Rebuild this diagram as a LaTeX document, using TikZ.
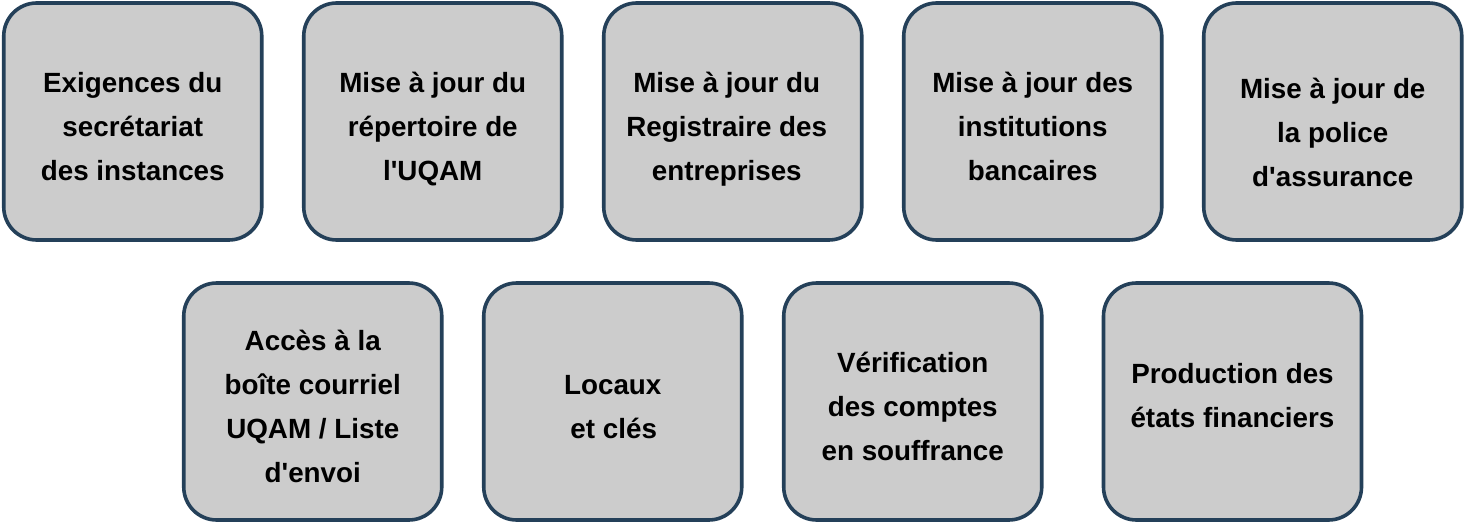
\documentclass[tikz,border=0pt]{standalone}
\usepackage{fontspec}
\setmainfont{Liberation Sans}
\definecolor{boxblue}{RGB}{36,64,89}
\definecolor{boxgray}{RGB}{204,204,204}
\newcommand{\sq}{\textquotesingle}
\tikzset{
  card/.style={draw=boxblue, fill=boxgray, line width=3.6pt, rounded corners=33pt,
    minimum width=258pt, minimum height=237pt, inner sep=0pt},
  cardtext/.style={align=center, inner sep=0pt, text=black,
    font=\fontsize{27.8}{44}\selectfont\bfseries}
}
\begin{document}
\begin{tikzpicture}[x=1pt,y=1pt]
\useasboundingbox (0,0) rectangle (1464,-530);
% top row
\node[card] (b1) at (132.75,-121.5) {};
\node[card] (b2) at (432.75,-121.5) {};
\node[card] (b3) at (732.75,-121.5) {};
\node[card] (b4) at (1032.75,-121.5) {};
\node[card] (b5) at (1332.75,-121.5) {};
% bottom row
\node[card] (b6) at (312.75,-401.5) {};
\node[card] (b7) at (612.75,-401.5) {};
\node[card] (b8) at (912.75,-401.5) {};
\node[card] (b9) at (1232.5,-401.5) {};
% texts
\node[cardtext] (t1) at ([yshift=-5.7pt]b1.center) {\strut Exigences du\\\strut secrétariat\\\strut des instances};
\node[cardtext] (t2) at ([yshift=-5.7pt]b2.center) {\strut Mise à jour du\\\strut répertoire de\\\strut l\sq UQAM};
\node[cardtext] (t3) at ([xshift=-6pt,yshift=-5.7pt]b3.center) {\strut Mise à jour du\\\strut Registraire des\\\strut entreprises};
\node[cardtext] (t4) at ([yshift=-5.7pt]b4.center) {\strut Mise à jour des\\\strut institutions\\\strut bancaires};
\node[cardtext] (t5) at ([yshift=-11.7pt]b5.center) {\strut Mise à jour de\\\strut la police\\\strut d\sq assurance};
\node[cardtext] (t6) at ([yshift=-5.7pt]b6.center) {\strut Accès à la\\\strut boîte courriel\\\strut UQAM / Liste\\\strut d\sq envoi};
\node[cardtext] (t7) at ([yshift=-5.7pt]b7.center) {\strut Locaux\hspace{7pt}\\\strut\hspace{2pt}et clés};
\node[cardtext] (t8) at ([yshift=-5.7pt]b8.center) {\strut Vérification\\\strut des comptes\\\strut en souffrance};
\node[cardtext] (t9) at ([yshift=5.3pt]b9.center) {\strut Production des\\\strut états financiers};
\end{tikzpicture}
\end{document}
